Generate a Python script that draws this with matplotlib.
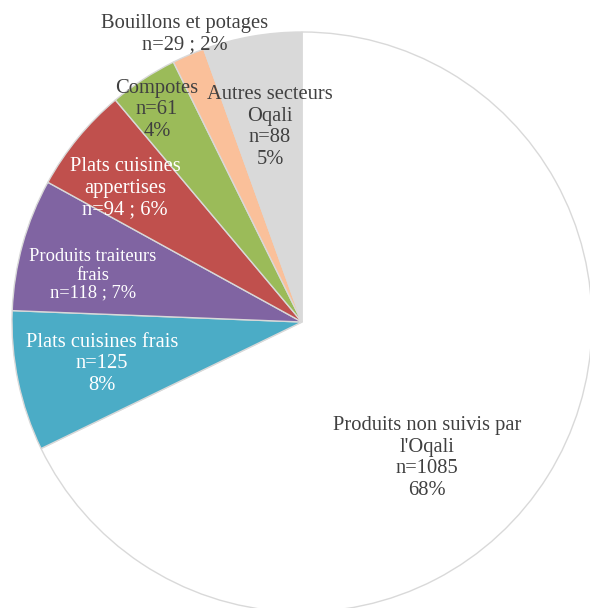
import numpy as np
import matplotlib.pyplot as plt

# Data
categories = ["Produits non suivis par\nl'Oqali", "Plats cuisines frais",
              "Produits traiteurs\nfrais", "Plats cuisines\nappertises",
              "Compotes", "Bouillons et potages", "Autres secteurs\nOqali"]
counts = [1085, 125, 118, 94, 61, 29, 88]
pct_labels = ["n=1085\n68%", "n=125\n8%", "n=118 ; 7%", "n=94 ; 6%",
              "n=61\n4%", "n=29 ; 2%", "n=88\n5%"]
colors = ['white', '#4BACC6', '#8064A2', '#C0504D', '#9BBB59', '#FAC09A', '#D9D9D9']

# label placement (pixel coords, y from top) and look
label_pos = [(427, 458), (102, 364), (93, 275), (125, 188),
             (157, 110), (185, 34), (270, 127)]
label_col = ['#404040', 'white', 'white', 'white', '#404040', '#404040', '#404040']
label_size = [14.8, 14.8, 13.3, 14.8, 14.8, 14.8, 14.8]
label_ls = [1.2, 1.2, 1.1, 1.2, 1.2, 1.2, 1.2]

W, H = 590, 608
fig = plt.figure(figsize=(W / 100, H / 100), dpi=100)
ax = fig.add_axes([0, 0, 1, 1])

ax.pie(counts, colors=colors, startangle=90, counterclock=False,
       center=(302, H - 322), radius=290, frame=True,
       wedgeprops=dict(edgecolor='#D9D9D9', linewidth=1))
ax.set_xlim(0, W)
ax.set_ylim(0, H)
ax.set_aspect('equal')
ax.axis('off')

for i in range(len(categories)):
    x, y = label_pos[i]
    ax.text(x, H - y, categories[i] + "\n" + pct_labels[i], ha='center', va='center',
            color=label_col[i], fontsize=label_size[i], family='Liberation Serif',
            linespacing=label_ls[i])

fig.savefig('out.png', dpi=100)
